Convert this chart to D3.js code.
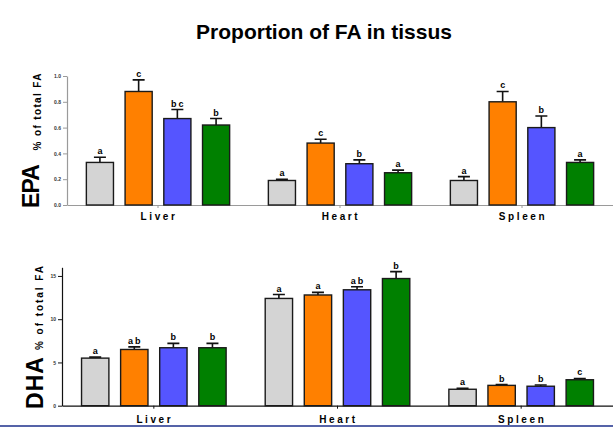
<!DOCTYPE html>
<html>
<head>
<meta charset="utf-8">
<script src="https://cdn.jsdelivr.net/npm/d3@7"></script>
<style>
  html, body { margin: 0; padding: 0; background: #fff; }
  svg { display: block; font-family: "Liberation Sans", Arial, sans-serif; }
</style>
</head>
<body>
<svg id="chart"></svg>
<script>
// ─── Data ─────────────────────────────────────────────────────────────────────
const tissues = ['Liver', 'Heart', 'Spleen'];
const groups  = ['G1', 'G2', 'G3', 'G4'];

const epaMean    = [[0.33, 0.88, 0.67, 0.62], [0.19, 0.48, 0.32, 0.25], [0.19, 0.80, 0.60, 0.33]];
const epaSem     = [[0.04, 0.09, 0.07, 0.05], [0.01, 0.03, 0.03, 0.02], [0.03, 0.08, 0.09, 0.02]];
const epaLetters = [['a', 'c', 'bc', 'b'], ['a', 'c', 'b', 'a'], ['a', 'c', 'b', 'a']];
const epaTicks   = [0, 0.2, 0.4, 0.6, 0.8, 1.0];

const dhaMean    = [[5.5, 6.5, 6.7, 6.7], [12.4, 12.8, 13.4, 14.7], [1.9, 2.35, 2.25, 3.0]];
const dhaSem     = [[0.12, 0.3, 0.5, 0.5], [0.45, 0.3, 0.35, 0.8], [0.1, 0.1, 0.15, 0.15]];
const dhaLetters = [['a', 'ab', 'b', 'b'], ['a', 'a', 'ab', 'b'], ['a', 'b', 'b', 'c']];
const dhaTicks   = [0, 5, 10, 15];

// ─── Layout ───────────────────────────────────────────────────────────────────
const W = 613, H = 428;
const COLORS = ['#d4d4d4', '#ff8000', '#5555ff', '#008000'];

const svg = d3.select('#chart').attr('width', W).attr('height', H);

svg.append('text')
  .attr('x', 324).attr('y', 39)
  .attr('text-anchor', 'middle')
  .attr('font-size', 21).attr('font-weight', 700)
  .text('Proportion of FA in tissus');

// slide border at the bottom
svg.append('rect').attr('x', 0).attr('y', 425).attr('width', W).attr('height', 2)
  .attr('fill', '#5563a8');

function rows(mean, sem, letters) {
  const out = [];
  tissues.forEach((t, i) => groups.forEach((g, j) => {
    out.push({ tissue: t, group: g, idx: j, v: mean[i][j], e: sem[i][j], l: letters[i][j] });
  }));
  return out;
}

function drawPanel(cfg) {
  const g = svg.append('g');
  const x0 = d3.scaleBand().domain(tissues).range(cfg.xr);
  const x1 = d3.scaleBand().domain(groups).range([0, x0.bandwidth()])
    .paddingInner(0.3).paddingOuter(0.5);
  const y  = d3.scaleLinear().domain(cfg.yd).range(cfg.yr);
  const data = rows(cfg.mean, cfg.sem, cfg.letters);

  // ── Axes ────────────────────────────────────────────────────────────────────
  const yAx = g.append('g').attr('transform', `translate(${cfg.xr[0]},0)`)
    .call(d3.axisLeft(y).tickValues(cfg.ticks).tickSize(4).tickPadding(2)
      .tickFormat(cfg.fmt).tickSizeOuter(0));
  yAx.select('.domain').attr('stroke', cfg.axis).attr('stroke-width', 1.2);
  yAx.selectAll('line').attr('stroke', cfg.axis);
  yAx.selectAll('text').attr('font-size', 5).attr('font-weight', 700)
    .attr('fill', '#333').attr('font-family', 'Liberation Sans, Arial');

  const xAx = g.append('g').attr('transform', `translate(0,${cfg.yr[0]})`)
    .call(d3.axisBottom(x0).tickSize(3).tickSizeOuter(0).tickFormat(''));
  xAx.select('.domain').attr('stroke', cfg.axis).attr('stroke-width', 1.2);
  xAx.selectAll('line').attr('stroke', cfg.axis);

  g.selectAll('.cat').data(tissues).enter().append('text')
    .attr('x', d => x0(d) + x0.bandwidth() / 2 + 1)
    .attr('y', cfg.catY)
    .attr('text-anchor', 'middle')
    .attr('font-size', 10).attr('font-weight', 700).attr('letter-spacing', 2.6)
    .text(d => d);

  // ── Error bars (upper only) ─────────────────────────────────────────────────
  const cx = d => x0(d.tissue) + x1(d.group) + x1.bandwidth() / 2;
  g.selectAll('.err').data(data).enter().append('path')
    .attr('fill', 'none').attr('stroke', '#111').attr('stroke-width', 1.6)
    .attr('d', d => `M${cx(d)},${y(d.v)}V${y(d.v + d.e)}M${cx(d) - 6},${y(d.v + d.e)}H${cx(d) + 6}`);

  // ── Bars ────────────────────────────────────────────────────────────────────
  g.selectAll('.bar').data(data).enter().append('rect')
    .attr('x', d => x0(d.tissue) + x1(d.group))
    .attr('width', x1.bandwidth())
    .attr('y', d => y(d.v))
    .attr('height', d => y(0) - y(d.v))
    .attr('fill', d => COLORS[d.idx])
    .attr('stroke', '#1a1a1a').attr('stroke-width', 1.4);

  // ── Significance letters ────────────────────────────────────────────────────
  g.selectAll('.sig').data(data).enter().append('text')
    .attr('x', d => cx(d) + (d.l.length > 1 ? 1 : 0))
    .attr('y', d => y(d.v + d.e) - 3)
    .attr('text-anchor', 'middle')
    .attr('font-size', 9).attr('font-weight', 700)
    .attr('letter-spacing', d => d.l.length > 1 ? 2 : 0)
    .text(d => d.l);

  // ── Y titles ────────────────────────────────────────────────────────────────
  g.append('text')
    .attr('transform', `translate(${cfg.bigX},${cfg.bigY}) rotate(-90)`)
    .attr('text-anchor', 'middle')
    .attr('font-size', 23).attr('font-weight', 700)
    .attr('textLength', cfg.bigLen).attr('lengthAdjust', 'spacing')
    .text(cfg.name);
  g.append('text')
    .attr('transform', `translate(${cfg.subX},${cfg.subY}) rotate(-90)`)
    .attr('text-anchor', 'middle')
    .attr('font-size', 10).attr('font-weight', 700)
    .attr('textLength', cfg.subLen).attr('lengthAdjust', 'spacing')
    .text('% of total FA');
}

drawPanel({
  name: 'EPA', mean: epaMean, sem: epaSem, letters: epaLetters, ticks: epaTicks,
  fmt: d3.format('.1f'), xr: [67, 613], yd: [0, 1], yr: [205, 76], axis: '#9a9a9a',
  catY: 220, bigX: 39, bigY: 186, bigLen: 44, subX: 41, subY: 112, subLen: 77
});

drawPanel({
  name: 'DHA', mean: dhaMean, sem: dhaSem, letters: dhaLetters, ticks: dhaTicks,
  fmt: d3.format('d'), xr: [62, 613], yd: [0, 16], yr: [405.7, 267.3], axis: '#111',
  catY: 423, bigX: 43, bigY: 383, bigLen: 52, subX: 43, subY: 308, subLen: 84
});
</script>
</body>
</html>
